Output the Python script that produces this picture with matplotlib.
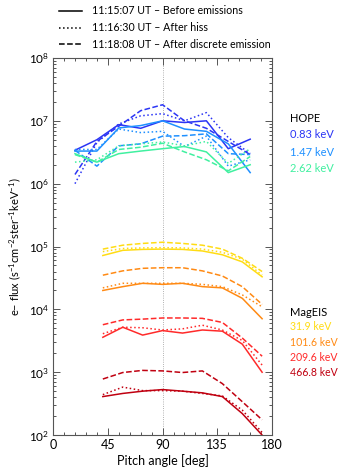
import numpy as np
import matplotlib
matplotlib.use('Agg')
import matplotlib.pyplot as plt
from matplotlib.lines import Line2D
from matplotlib.ticker import MultipleLocator, LogLocator, NullFormatter

plt.rcParams['font.family'] = ['Lato', 'DejaVu Sans']
plt.rcParams['mathtext.fontset'] = 'custom'
plt.rcParams['mathtext.rm'] = 'Lato'

# pitch angles of the two instruments
hope_pa = [18, 36, 54, 72, 90, 108, 126, 144, 162]
mageis_pa = [40.9, 57.3, 73.6, 90.0, 106.4, 122.7, 139.1, 155.5, 171.8]

times = ['11:15:07 UT \u2013 Before emissions',
         '11:16:30 UT \u2013 After hiss',
         '11:18:08 UT \u2013 After discrete emission']

hope_labels = ['0.83 keV', '1.47 keV', '2.62 keV']
mageis_labels = ['31.9 keV', '101.6 keV', '209.6 keV', '466.8 keV']

# HOPE fluxes: [before, after hiss, after discrete]
hope_083 = [[3.4e6, 5.0e6, 8.7e6, 7.6e6, 1.0e7, 9.4e6, 1.0e7, 3.6e6, 5.1e6],
            [1.0e6, 4.5e6, 8.9e6, 1.2e7, 1.3e7, 1.0e7, 1.35e7, 5.4e6, 3.0e6],
            [1.4e6, 4.7e6, 8.2e6, 1.45e7, 1.8e7, 1.0e7, 7.6e6, 4.7e6, 2.9e6]]
hope_147 = [[3.3e6, 3.3e6, 7.7e6, 8.4e6, 1.0e7, 7.4e6, 6.8e6, 4.3e6, 1.5e6],
            [3.5e6, 3.5e6, 7.4e6, 6.5e6, 6.8e6, 3.9e6, 5.7e6, 1.9e6, 2.4e6],
            [3.4e6, 1.9e6, 4.0e6, 4.3e6, 5.7e6, 5.8e6, 6.2e6, 3.0e6, 2.9e6]]
hope_262 = [[3.0e6, 2.2e6, 3.0e6, 3.3e6, 3.6e6, 3.9e6, 3.2e6, 1.5e6, 2.0e6],
            [2.2e6, 2.4e6, 4.0e6, 4.3e6, 4.6e6, 4.0e6, 4.7e6, 2.1e6, 3.6e6],
            [2.9e6, 2.2e6, 3.5e6, 3.8e6, 4.4e6, 3.2e6, 2.4e6, 1.6e6, 2.7e6]]

# MagEIS fluxes: [before, after hiss, after discrete]
mageis_319 = [[7.2e4, 8.7e4, 9.0e4, 9.1e4, 9.0e4, 8.5e4, 7.4e4, 5.7e4, 3.3e4],
              [8.3e4, 9.3e4, 9.5e4, 9.6e4, 9.5e4, 9.1e4, 8.1e4, 6.3e4, 3.5e4],
              [9.1e4, 1.05e5, 1.12e5, 1.17e5, 1.12e5, 1.05e5, 9.1e4, 6.5e4, 4.0e4]]
mageis_1016 = [[2.0e4, 2.3e4, 2.6e4, 2.5e4, 2.6e4, 2.3e4, 2.2e4, 1.5e4, 7.1e3],
               [2.2e4, 2.6e4, 2.6e4, 2.6e4, 2.6e4, 2.5e4, 2.3e4, 1.7e4, 1.1e4],
               [3.5e4, 4.1e4, 4.5e4, 4.6e4, 4.6e4, 4.1e4, 3.4e4, 2.3e4, 1.2e4]]
mageis_2096 = [[3.6e3, 5.2e3, 3.9e3, 4.6e3, 4.2e3, 4.7e3, 4.5e3, 2.8e3, 1.0e3],
               [4.1e3, 5.2e3, 5.1e3, 4.7e3, 4.9e3, 5.6e3, 4.7e3, 3.2e3, 1.3e3],
               [5.7e3, 6.8e3, 7.0e3, 7.3e3, 7.3e3, 7.2e3, 6.2e3, 3.5e3, 1.8e3]]
mageis_4668 = [[410, 460, 500, 530, 500, 470, 410, 220, 100],
               [440, 580, 510, 510, 500, 460, 420, 250, 110],
               [780, 990, 1070, 1050, 990, 1050, 660, 340, 175]]

hope_colors = ['#2b35f5', '#1e90ff', '#40f0a0']
mageis_colors = ['#ffdc14', '#ff8a14', '#ff2a2a', '#c00010']
styles = ['-', ':', '--']


def main():
    fig = plt.figure(figsize=(3.38, 4.75), dpi=100)
    ax = fig.add_axes([0.157, 0.084, 0.648, 0.794])

    ax.axvline(90, color='#999999', lw=0.6, ls=':', zorder=0)

    for data, color in zip([hope_083, hope_147, hope_262], hope_colors):
        for values, ls in zip(data, styles):
            ax.plot(hope_pa, values, color=color, ls=ls, lw=1.1)

    for data, color in zip([mageis_319, mageis_1016, mageis_2096, mageis_4668], mageis_colors):
        for values, ls in zip(data, styles):
            ax.plot(mageis_pa, values, color=color, ls=ls, lw=1.1)

    ax.set_yscale('log')
    ax.set_xlim(0, 180)
    ax.set_ylim(1e2, 1e8)
    ax.set_xticks([0, 45, 90, 135, 180])
    ax.xaxis.set_minor_locator(MultipleLocator(9))
    ax.yaxis.set_major_locator(LogLocator(base=10, numticks=10))
    ax.yaxis.set_minor_locator(LogLocator(base=10, subs=np.arange(2, 10), numticks=20))
    ax.yaxis.set_minor_formatter(NullFormatter())
    ax.tick_params(which='both', direction='in', top=True, right=True,
                   color='#555555', width=0.7)
    ax.tick_params(axis='x', labelsize=9)
    ax.tick_params(axis='y', labelsize=8.5)
    ax.tick_params(which='major', length=5, pad=3)
    ax.tick_params(which='minor', length=2.5)
    for spine in ax.spines.values():
        spine.set_color('#555555')
        spine.set_linewidth(0.8)

    ax.set_xlabel('Pitch angle [deg]', fontsize=9, labelpad=2)
    ax.set_ylabel('e\u2013 flux (s$^{-1}$cm$^{-2}$ster$^{-1}$keV$^{-1}$)', fontsize=8, labelpad=4)

    # legend drawn in figure coordinates
    W, H = 338.0, 475.0
    for i, (label, ls) in enumerate(zip(times, styles)):
        y = 1 - (11 + 16.7 * i) / H
        fig.add_artist(Line2D([59 / W, 82 / W], [y, y], color='black', ls=ls, lw=1.1,
                              transform=fig.transFigure))
        fig.text(92 / W, y, label, fontsize=7.7, va='center', ha='left')

    # instrument labels at the right
    fig.text(290 / W, 1 - 119 / H, 'HOPE', fontsize=8, va='center')
    for i, (label, color) in enumerate(zip(hope_labels, hope_colors)):
        fig.text(290 / W, 1 - (135 + 17 * i) / H, label, fontsize=8, va='center', color=color)
    fig.text(290 / W, 1 - 312 / H, 'MagEIS', fontsize=8, va='center')
    for i, (label, color) in enumerate(zip(mageis_labels, mageis_colors)):
        fig.text(290 / W, 1 - (327 + 15.3 * i) / H, label, fontsize=7.6, va='center', color=color)

    fig.savefig('out.png', dpi=100)


if __name__ == '__main__':
    main()
